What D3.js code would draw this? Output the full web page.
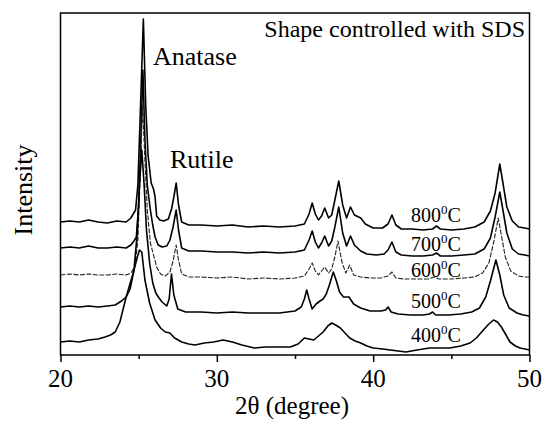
<!DOCTYPE html>
<html><head><meta charset="utf-8">
<script src="https://cdn.jsdelivr.net/npm/d3@7"></script>
<style>
html,body{margin:0;padding:0;background:#fff;}
</style></head>
<body><svg id="chart" width="545" height="425"></svg>
<script>
// x-axis ticks
const majorTicks = [20, 30, 40, 50];
const minorTicks = [25, 35, 45];
// series labels (temperature, °C)
const temps = ["800", "700", "600", "500", "400"];
// intensity (a.u.) vs 2θ: [2θ, intensity]
const s800 = [[20,133],[20.6,134],[21.2,133],[21.8,135],[22.4,133],[23,132],[23.6,134],[24.2,133],[24.5,137],[24.65,141],[24.8,145],[24.95,170],[25.1,240],[25.3,336],[25.45,250],[25.6,200],[25.8,172],[25.95,166],[26.05,158],[26.15,139],[26.35,135],[26.6,134],[26.9,136],[27.1,146],[27.25,158],[27.4,172],[27.55,150],[27.75,133],[28.2,130],[29,130],[30,129],[31,130],[32,128],[33,129],[34,128],[35,129],[35.6,131],[35.9,141],[36.1,152],[36.3,141],[36.5,135],[36.7,139],[36.9,147],[37.15,137],[37.35,140],[37.55,155],[37.8,174],[38.05,150],[38.3,137],[38.55,148],[38.8,140],[39.2,137],[39.5,131],[40,127],[40.6,127],[40.95,131],[41.2,140],[41.45,130],[41.8,126],[42.5,126],[43.2,125],[43.8,126],[44.05,129],[44.3,126],[45,125],[45.8,126],[46.5,128],[47.1,133],[47.5,144],[47.8,162],[48.1,191],[48.3,172],[48.55,148],[48.9,134],[49.3,128],[49.7,127],[50,126]];
const s700 = [[20,107],[20.6,108],[21.2,107],[21.8,109],[22.4,107],[23,107],[23.6,108],[24.2,107],[24.5,110],[24.7,114],[24.85,118],[25.0,150],[25.15,220],[25.27,285],[25.4,215],[25.55,170],[25.75,145],[25.9,130],[26.05,118],[26.25,110],[26.5,108],[26.8,109],[27.0,115],[27.2,128],[27.4,145],[27.55,125],[27.75,107],[28.2,104],[29,104],[30,103],[31,103],[32,102],[33,103],[34,102],[35,103],[35.6,105],[35.9,115],[36.1,124],[36.3,113],[36.5,107],[36.7,112],[36.9,119],[37.15,109],[37.35,114],[37.55,128],[37.8,148],[38.05,122],[38.3,109],[38.55,119],[38.8,110],[39.2,104],[39.6,101],[40.2,100],[40.7,101],[40.95,105],[41.2,113],[41.45,103],[41.8,100],[42.5,99],[43.2,99],[43.8,100],[44.05,102],[44.3,99],[45,99],[45.8,100],[46.5,101],[47.1,106],[47.5,117],[47.8,138],[48.1,163],[48.3,145],[48.55,122],[48.9,106],[49.3,101],[49.7,100],[50,99]];
const s600 = [[20,80],[20.6,81],[21.2,80],[21.8,81],[22.4,80],[23,80],[23.6,81],[24.2,80],[24.5,82],[24.75,88],[24.95,115],[25.1,180],[25.25,250],[25.4,195],[25.55,145],[25.75,112],[25.95,100],[26.15,88],[26.4,81],[26.7,79],[27.0,83],[27.2,94],[27.4,110],[27.55,95],[27.75,81],[28.2,78],[29,78],[30,77],[31,78],[32,76],[33,77],[34,76],[35,77],[35.6,79],[35.9,86],[36.1,92],[36.3,84],[36.5,80],[36.7,84],[36.9,88],[37.15,82],[37.35,86],[37.55,98],[37.75,114],[38.0,93],[38.25,82],[38.5,90],[38.75,80],[39.2,78],[39.8,77],[40.5,77],[40.95,79],[41.2,83],[41.45,77],[42,76],[42.8,76],[43.5,76],[43.9,78],[44.2,76],[45,76],[45.8,77],[46.5,78],[47.0,82],[47.4,92],[47.7,112],[48.0,137],[48.2,120],[48.45,98],[48.8,84],[49.3,79],[49.7,78],[50,78]];
const s500 = [[20,48],[20.6,49],[21.2,48],[21.8,49],[22.4,48],[23,49],[23.5,50],[23.9,54],[24.2,58],[24.45,66],[24.7,85],[24.9,120],[25.05,170],[25.2,205],[25.35,170],[25.5,125],[25.7,92],[25.9,72],[26.1,62],[26.3,57],[26.5,53],[26.8,49],[26.95,56],[27.1,81],[27.25,60],[27.5,46],[28,43],[29,43],[30,42],[31,43],[32,42],[33,42],[34,42],[35,44],[35.4,48],[35.6,56],[35.75,65],[35.9,56],[36.1,46],[36.35,51],[36.6,54],[36.8,56],[37.0,61],[37.2,70],[37.45,83],[37.65,74],[37.85,63],[38.1,58],[38.45,58],[38.75,51],[39.2,47],[39.8,44],[40.5,44],[40.8,45],[40.95,48],[41.15,43],[41.6,41],[42.4,40],[43.2,40],[43.6,41],[43.8,43],[44.0,40],[44.8,40],[45.6,41],[46.3,43],[46.8,47],[47.2,58],[47.5,74],[47.85,95],[48.1,80],[48.35,60],[48.7,47],[49.2,42],[49.6,40],[50,39]];
const s400 = [[20,13],[20.6,14],[21.2,13],[21.8,15],[22.4,16],[22.85,18],[23.2,20],[23.5,23],[23.8,33],[24.2,58],[24.65,82],[24.9,97],[25.05,105],[25.2,103],[25.4,75],[25.7,52],[26.05,35],[26.4,27],[26.7,23],[27.0,22],[27.3,17],[27.75,13],[28.2,11],[28.6,10],[29.2,12],[29.8,13],[30.4,15],[31.0,13],[31.6,10],[32.4,7],[33.1,8],[34.2,8],[34.7,8],[35.2,11],[35.6,17],[35.9,16],[36.2,15],[36.5,19],[36.8,23],[37.1,29],[37.35,32],[37.6,30],[37.9,27],[38.2,22],[38.5,17],[38.85,14],[39.2,12],[39.6,9],[40.0,7],[40.6,6],[41.1,5],[41.6,4],[42.1,3],[42.8,5],[43.6,7],[44.3,7],[44.9,7],[45.6,9],[46.2,12],[46.6,17],[47.05,25],[47.4,31],[47.7,35],[47.95,33],[48.2,28],[48.5,20],[48.75,13],[49.1,9],[49.4,7],[49.7,6],[50,5]];
const seriesData = [s800, s700, s600, s500, s400];
const labelBaselinePx = [222, 250.5, 276.5, 308, 341.5];

const FONT = "Liberation Serif";
const mLeft = 60.5, mRight = 529.5, mTop = 13, mBottom = 355;
const svg = d3.select("#chart").attr("font-family", FONT);

const x = d3.scaleLinear().domain([20, 50]).range([mLeft, mRight]);
const y = d3.scaleLinear().domain([0, 342]).range([mBottom, mTop]);

// curves
const line = d3.line().x(d => x(d[0])).y(d => y(d[1])).curve(d3.curveLinear);
seriesData.forEach((s, i) => {
  svg.append("path").datum(s)
    .attr("d", line)
    .attr("fill", "none")
    .attr("stroke", i === 2 ? "#222" : "#000")
    .attr("stroke-width", i === 2 ? 1.1 : 1.6)
    .attr("stroke-dasharray", i === 2 ? "5,1.5" : null)
    .attr("stroke-linejoin", "round");
});

// frame
svg.append("rect").attr("x", mLeft).attr("y", mTop)
  .attr("width", mRight - mLeft).attr("height", mBottom - mTop)
  .attr("fill", "none").attr("stroke", "#000").attr("stroke-width", 1.5);

// x axis (ticks; labels drawn as text below)
const gx = svg.append("g").attr("transform", `translate(0,${mBottom})`)
  .call(d3.axisBottom(x).tickValues(majorTicks).tickSize(7).tickFormat(""));
gx.select(".domain").remove();
gx.selectAll("line").attr("stroke", "#000").attr("stroke-width", 1.5);
gx.selectAll("text").remove();
const gxm = svg.append("g").attr("transform", `translate(0,${mBottom})`)
  .call(d3.axisBottom(x).tickValues(minorTicks).tickSize(4).tickFormat(""));
gxm.select(".domain").remove();
gxm.selectAll("line").attr("stroke", "#000").attr("stroke-width", 1.5);
gxm.selectAll("text").remove();

function txt(xp, yp, s, size, anchor) {
  const t = svg.append("text").attr("x", xp).attr("y", yp).attr("font-family", FONT)
    .attr("font-size", size).attr("text-anchor", anchor || "start").attr("fill", "#000");
  if (s !== null) t.append("tspan").attr("font-family", FONT).text(s);
  return t;
}
// tick labels
majorTicks.forEach(v => txt(x(v), mBottom + 32, String(v), 25, "middle"));
// axis titles
txt(292, 414, "2θ (degree)", 25, "middle");
txt(0, 0, "Intensity", 26, "middle").attr("transform", "translate(32,190) rotate(-90)");

// annotations
txt(525, 37, "Shape controlled with SDS", 24, "end");
txt(153, 65, "Anatase", 26);
txt(170, 168, "Rutile", 26);

// temperature labels
temps.forEach((t, i) => {
  const tx = txt(411, labelBaselinePx[i], null, 20);
  tx.append("tspan").text(t);
  tx.append("tspan").attr("dy", -8).attr("font-size", 13).text("0");
  tx.append("tspan").attr("dy", 8).text("C");
});
</script></body></html>
